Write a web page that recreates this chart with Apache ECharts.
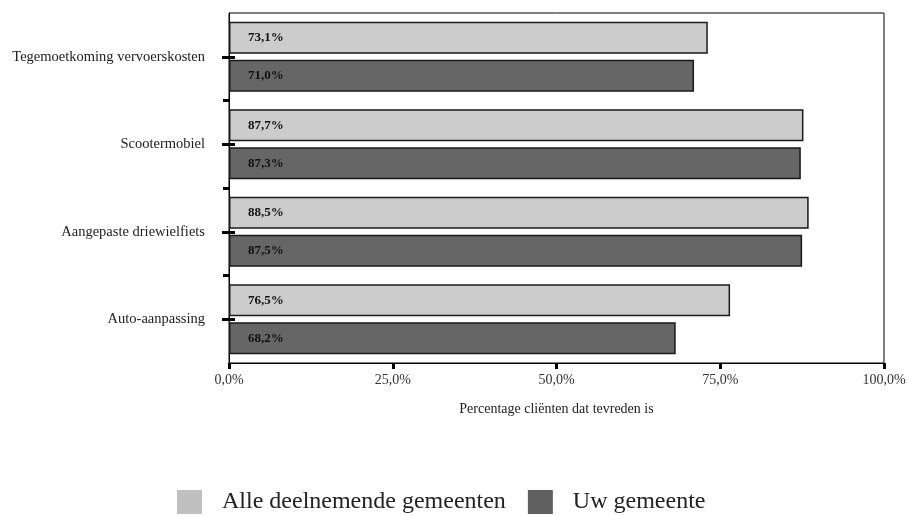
<!DOCTYPE html>
<html>
<head>
<meta charset="utf-8">
<script src="https://cdn.jsdelivr.net/npm/echarts@6/dist/echarts.min.js"></script>
<style>
html,body{margin:0;padding:0;background:#fff;}
#chart{width:909px;height:516px;}
</style>
</head>
<body>
<div id="chart"></div>
<script>
// Categories listed top to bottom
const categories = ['Tegemoetkoming vervoerskosten', 'Scootermobiel', 'Aangepaste driewielfiets', 'Auto-aanpassing'];
const seriesNames = ['Alle deelnemende gemeenten', 'Uw gemeente'];
const alleValues = [73.1, 87.7, 88.5, 76.5];
const uwValues = [71.0, 87.3, 87.5, 68.2];
const xTicks = [0, 25, 50, 75, 100];

const serif = '"Liberation Serif", "DejaVu Serif", serif';
const fmtPct = v => v.toFixed(1).replace('.', ',') + '%';

// Tick slots along the category axis: a boundary slot before each category,
// the category centre, and a closing boundary slot.
const tickSlots = [];
categories.forEach(c => { tickSlots.push('|' + c, c); });
tickSlots.push('|end');
const lastSlot = tickSlots.length - 1;

const chart = echarts.init(document.getElementById('chart'), null, {renderer: 'canvas'});

const barLabel = {
  show: true,
  position: 'insideLeft',
  distance: 19,
  fontFamily: serif,
  fontWeight: 'bold',
  fontSize: 13,
  color: '#111',
  formatter: p => fmtPct(p.value)
};

const tickAxis = (pick, inside, length) => ({
  type: 'category',
  data: tickSlots,
  boundaryGap: false,
  inverse: true,
  position: 'left',
  axisLine: {show: false},
  axisLabel: {show: false},
  axisTick: {show: true, interval: pick, inside: inside, length: length, lineStyle: {color: '#000', width: 3}},
  splitLine: {show: false}
});
const isCentre = i => i % 2 === 1;
const isInnerBoundary = i => i % 2 === 0 && i !== 0 && i !== lastSlot;

chart.setOption({
  animation: false,
  grid: {left: 229, right: 25, top: 13, bottom: 153, show: true, borderColor: '#000', borderWidth: 1},
  legend: {
    left: 177,
    top: 490,
    padding: 0,
    itemWidth: 25,
    itemHeight: 24,
    itemGap: 22,
    icon: 'rect',
    itemStyle: {borderWidth: 0},
    textStyle: {fontFamily: serif, fontSize: 24, color: '#222', padding: [0, 0, 0, 15]},
    data: [
      {name: seriesNames[0], itemStyle: {color: '#c0c0c0', borderWidth: 0}},
      {name: seriesNames[1], itemStyle: {color: '#606060', borderWidth: 0}}
    ]
  },
  xAxis: {
    type: 'value',
    min: xTicks[0],
    max: xTicks[xTicks.length - 1],
    interval: 25,
    name: 'Percentage cliënten dat tevreden is',
    nameLocation: 'middle',
    nameGap: 39,
    nameTextStyle: {fontFamily: serif, fontSize: 14, color: '#222'},
    axisLine: {show: true, lineStyle: {color: '#000', width: 1}},
    axisTick: {show: true, length: 6, lineStyle: {color: '#000', width: 3}},
    axisLabel: {fontFamily: serif, fontSize: 14, color: '#333', margin: 10, formatter: v => fmtPct(v)},
    splitLine: {show: false}
  },
  yAxis: [
    {
      type: 'category',
      data: categories,
      inverse: true,
      axisLine: {show: true, lineStyle: {color: '#000', width: 1}},
      axisTick: {show: false},
      axisLabel: {fontFamily: serif, fontSize: 14.5, color: '#222', margin: 24},
      splitLine: {show: false}
    },
    tickAxis((i) => isInnerBoundary(i), false, 6),
    tickAxis((i) => isCentre(i), false, 7),
    tickAxis((i) => isCentre(i), true, 6)
  ],
  series: [
    {
      name: seriesNames[0],
      type: 'bar',
      data: alleValues,
      barWidth: 32,
      barGap: '19%',
      itemStyle: {color: '#cccccc', borderColor: '#1a1a1a', borderWidth: 1.5},
      label: barLabel
    },
    {
      name: seriesNames[1],
      type: 'bar',
      data: uwValues,
      barWidth: 32,
      barGap: '19%',
      itemStyle: {color: '#666666', borderColor: '#1a1a1a', borderWidth: 1.5},
      label: barLabel
    }
  ]
});
</script>
</body>
</html>
